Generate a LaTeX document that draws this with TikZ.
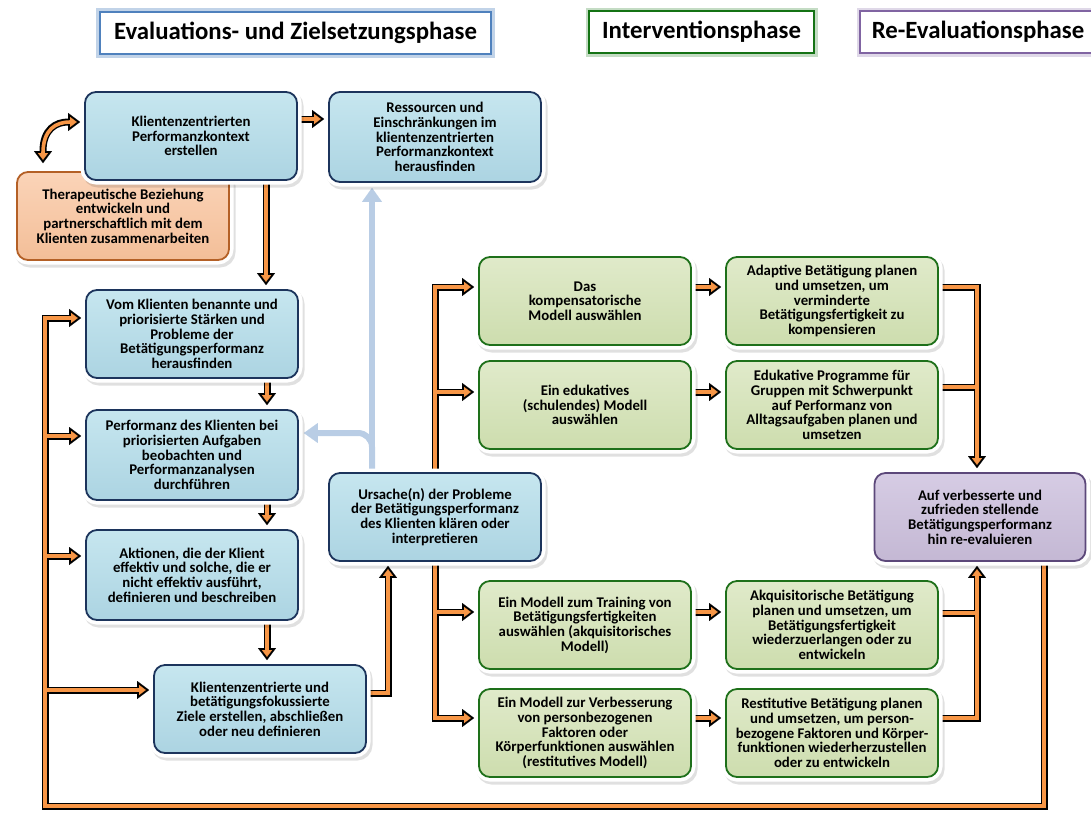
\documentclass[tikz,border=0pt]{standalone}
\usepackage{fontspec}
\setmainfont{Carlito}
\usetikzlibrary{arrows.meta,calc,shadows}
\pgfdeclarelayer{blu}
\pgfdeclarelayer{blk}
\pgfdeclarelayer{org}
\pgfsetlayers{blu,blk,org,main}
\definecolor{ora}{RGB}{247,150,70}
\definecolor{bluT}{RGB}{198,230,239}
\definecolor{bluB}{RGB}{172,212,226}
\definecolor{bluD}{RGB}{28,52,92}
\definecolor{grnT}{RGB}{224,234,202}
\definecolor{grnB}{RGB}{205,221,174}
\definecolor{grnD}{RGB}{30,112,26}
\definecolor{orT}{RGB}{251,212,184}
\definecolor{orB}{RGB}{243,190,152}
\definecolor{orD}{RGB}{180,96,38}
\definecolor{puT}{RGB}{214,204,228}
\definecolor{puB}{RGB}{196,184,212}
\definecolor{puD}{RGB}{92,72,122}
\definecolor{hBlue}{RGB}{79,129,189}
\definecolor{hGreen}{RGB}{20,115,20}
\definecolor{hPurple}{RGB}{128,100,162}
\definecolor{lblue}{RGB}{185,205,229}
\newcommand\nfont{\fontsize{14.8}{14.7}\selectfont\bfseries}
\newcommand\hfont{\fontsize{24.8}{28}\selectfont\bfseries}
\newcommand\oconn[2]{%
  \begin{pgfonlayer}{blk}\draw[oblk,blk#1] #2;\end{pgfonlayer}%
  \begin{pgfonlayer}{org}\draw[oorg,org#1] #2;\end{pgfonlayer}}
\tikzset{
  oblk/.style={draw=black,line width=7pt,line join=miter},
  oorg/.style={draw=ora,line width=3.6pt,line join=miter},
  blkE/.style={-{Triangle[length=12pt,width=18pt,line width=0.1pt]},shorten >=4pt},
  orgE/.style={-{Triangle[length=6.7pt,width=10pt,sep=3.3pt,line width=0.1pt]},shorten >=4pt},
  blkB/.style={{Triangle[length=12pt,width=18pt,line width=0.1pt]}-{Triangle[length=12pt,width=18pt,line width=0.1pt]},shorten >=4pt,shorten <=8pt},
  orgB/.style={{Triangle[length=6.7pt,width=10pt,sep=3.3pt,line width=0.1pt]}-{Triangle[length=6.7pt,width=10pt,sep=3.3pt,line width=0.1pt]},shorten >=4pt,shorten <=8pt},
  blkN/.style={},
  orgN/.style={},
  barr/.style={draw=lblue,line width=6pt,-{Triangle[length=14pt,width=20pt,line width=0.1pt]},shorten >=5pt},
  nbox/.style={rounded corners=11pt,minimum width=212pt,minimum height=88pt,inner sep=1pt,
    align=center,font=\nfont,line width=1.8pt,
    drop shadow={shadow xshift=2pt,shadow yshift=-3pt,opacity=.12,draw=black,fill=black,line width=9pt},
    preaction={draw=white,line width=9pt}},
  bluebox/.style={nbox,draw=bluD,top color=bluT,bottom color=bluB},
  greenbox/.style={nbox,draw=grnD,top color=grnT,bottom color=grnB},
  orangebox/.style={nbox,draw=orD,top color=orT,bottom color=orB},
  purplebox/.style={nbox,draw=puD,top color=puT,bottom color=puB},
  hdr/.style={font=\hfont,minimum height=42pt,inner sep=0pt,line width=2.8pt,fill=white},
}
\begin{document}
\begin{tikzpicture}[x=1pt,y=-1pt]
\useasboundingbox (0,0) rectangle (1091,812);
% headers
\node[hdr,draw=hBlue,minimum width=391pt,preaction={draw=hBlue!35,line width=8pt}] (EH) at (295.5,33) {Evaluations- und Zielsetzungsphase};
\node[hdr,draw=hGreen,minimum width=225pt,preaction={draw=hGreen!25,line width=7pt}] (IH) at (701.5,32) {Interventionsphase};
\node[hdr,draw=hPurple,minimum width=236pt,preaction={draw=hPurple!25,line width=7pt}] (RH) at (978,32) {Re-Evaluationsphase};
% nodes
\node[orangebox] (T) at (123,216) {Therapeutische Beziehung\\entwickeln und\\partnerschaftlich mit dem\\Klienten zusammenarbeiten};
\node[bluebox] (K1) at (191,136) {Klientenzentrierten\\Performanzkontext\\erstellen};
\node[bluebox,minimum height=90pt] (R) at (435,137) {Ressourcen und\\Einschränkungen im\\klientenzentrierten\\Performanzkontext\\herausfinden};
\node[bluebox] (V) at (192,334) {Vom Klienten benannte und\\priorisierte Stärken und\\Probleme der\\Betätigungsperformanz\\herausfinden};
\node[bluebox,minimum height=90pt] (P) at (192,455) {Performanz des Klienten bei\\priorisierten Aufgaben\\beobachten und\\Performanzanalysen\\durchführen};
\node[bluebox,minimum height=90pt] (A) at (192,575) {Aktionen, die der Klient\\effektiv und solche, die er\\nicht effektiv ausführt,\\definieren und beschreiben};
\node[bluebox] (Z) at (260,709) {Klientenzentrierte und\\betätigungsfokussierte\\Ziele erstellen, abschließen\\oder neu definieren};
\node[bluebox] (U) at (435,517) {Ursache(n) der Probleme\\der Betätigungsperformanz\\des Klienten klären oder\\interpretieren};
\node[greenbox] (G1) at (585,301) {Das\\kompensatorische\\Modell auswählen};
\node[greenbox] (G2) at (585,405) {Ein edukatives\\(schulendes) Modell\\auswählen};
\node[greenbox] (G3) at (832,301) {Adaptive Betätigung planen\\und umsetzen, um\\verminderte\\Betätigungsfertigkeit zu\\kompensieren};
\node[greenbox] (G4) at (832,405) {Edukative Programme für\\Gruppen mit Schwerpunkt\\auf Performanz von\\Alltagsaufgaben planen und\\umsetzen};
\node[greenbox] (G5) at (585,625) {Ein Modell zum Training von\\Betätigungsfertigkeiten\\auswählen (akquisitorisches\\Modell)};
\node[greenbox] (G6) at (585,733) {Ein Modell zur Verbesserung\\von personbezogenen\\Faktoren oder\\Körperfunktionen auswählen\\(restitutives Modell)};
\node[greenbox] (G7) at (832,625) {Akquisitorische Betätigung\\planen und umsetzen, um\\Betätigungsfertigkeit\\wiederzuerlangen oder zu\\entwickeln};
\node[greenbox] (G8) at (832,733) {Restitutive Betätigung planen\\und umsetzen, um person-\\bezogene Faktoren und Körper-\\funktionen wiederherzustellen\\oder zu entwickeln};
\node[purplebox,minimum width=211pt] (RE) at (980,517) {Auf verbesserte und\\zufrieden stellende\\Betätigungsperformanz\\hin re-evaluieren};
% helper coordinates
\coordinate (tt) at ([xshift=-80pt]T.north);
\coordinate (kt) at ([yshift=14pt]K1.west);
\coordinate (g1in) at ([yshift=14pt]G1.west);
\coordinate (g2in) at ([yshift=13pt]G2.west);
\coordinate (g5in) at ([yshift=13pt]G5.west);
\coordinate (g6in) at ([yshift=15pt]G6.west);
\coordinate (ren) at ([xshift=-3pt]RE.north);
\coordinate (res) at ([xshift=-3pt]RE.south);
\coordinate (lb) at (45,806);
\coordinate (vin) at ([yshift=16pt]V.west);
\coordinate (pin) at ([yshift=19pt]P.west);
\coordinate (ain) at ([yshift=19pt]A.west);
\coordinate (zin) at ([yshift=19pt]Z.west);
% orange connectors
\oconn{B}{(tt) .. controls ($(tt)+(0,-42)$) and ($(kt)+(-28,0)$) .. (kt)}
\oconn{E}{([yshift=17pt]K1.east) -- ([yshift=17pt]K1.east -| R.west)}
\oconn{E}{([xshift=75pt]K1.south) -- ([xshift=75pt]K1.south |- V.north)}
\oconn{E}{([xshift=75pt]V.south) -- ([xshift=75pt]V.south |- P.north)}
\oconn{E}{([xshift=75pt]P.south) -- ([xshift=75pt]P.south |- A.north)}
\oconn{E}{([xshift=75pt]A.south) -- ([xshift=75pt]A.south |- Z.north)}
\oconn{E}{([yshift=16pt]Z.east) -| ([xshift=-47pt]U.south)}
\oconn{E}{(U.north) |- (g1in)}
\oconn{E}{(U.north |- g2in) -- (g2in)}
\oconn{E}{(U.south) |- (g6in)}
\oconn{E}{(U.south |- g5in) -- (g5in)}
\oconn{E}{([yshift=14pt]G1.east) -- ([yshift=14pt]G1.east -| G3.west)}
\oconn{E}{([yshift=13pt]G2.east) -- ([yshift=13pt]G2.east -| G4.west)}
\oconn{E}{([yshift=13pt]G5.east) -- ([yshift=13pt]G5.east -| G7.west)}
\oconn{E}{([yshift=15pt]G6.east) -- ([yshift=15pt]G6.east -| G8.west)}
\oconn{E}{([yshift=14pt]G3.east) -| (ren)}
\oconn{N}{([yshift=18pt]G4.east) -- ([yshift=18pt]G4.east -| ren)}
\oconn{E}{([yshift=15pt]G8.east) -| (res)}
\oconn{N}{([yshift=12pt]G7.east) -- ([yshift=12pt]G7.east -| res)}
\oconn{E}{([xshift=64pt]RE.south) |- (lb) |- (vin)}
\oconn{E}{(lb |- pin) -- (pin)}
\oconn{E}{(lb |- ain) -- (ain)}
\oconn{E}{(lb |- zin) -- (zin)}
% blue connectors
\begin{pgfonlayer}{blu}
\draw[barr] ([xshift=-63pt]U.north) -- ([xshift=-63pt]U.north |- R.south);
\draw[barr,rounded corners=14pt] ([xshift=-63pt]U.north) |- ([yshift=22pt]P.east);
\end{pgfonlayer}
\end{tikzpicture}
\end{document}
